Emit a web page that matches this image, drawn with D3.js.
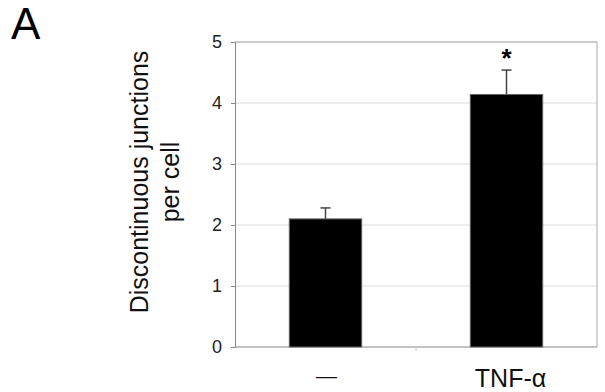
<!DOCTYPE html>
<html>
<head>
<meta charset="utf-8">
<script src="https://cdn.jsdelivr.net/npm/d3@7"></script>
<style>
  body { margin: 0; background: #fff; }
  text { font-family: "Liberation Sans", Arial, sans-serif; }
</style>
</head>
<body>
<svg id="chart" width="605" height="392"></svg>
<script>
const categories = ["\u2014", "TNF-\u03b1"]
const means = [2.1, 4.14]
const errors = [0.18, 0.4]
const stars = ["", "*"]
const yTicks = [0, 1, 2, 3, 4, 5]

const svg = d3.select("#chart")
const m = {left: 235, top: 42, right: 597, bottom: 347}

const x = d3.scaleBand()
    .domain(categories)
    .range([m.left, m.right])
    .paddingInner(0.6)
    .paddingOuter(0.3)

const y = d3.scaleLinear().domain([0, 5]).range([m.bottom, m.top])

// panel letter
svg.append("text")
    .attr("x", 11).attr("y", 39)
    .style("font-size", "44px")
    .text("A")

// grid
svg.append("g").selectAll("line")
    .data(yTicks.filter(d => d > 0))
    .join("line")
    .attr("x1", m.left).attr("x2", m.right)
    .attr("y1", d => y(d)).attr("y2", d => y(d))
    .style("stroke", "#dcdcdc")

// frame top / right
svg.append("path")
    .attr("d", `M${m.left},${m.top}H${m.right}V${m.bottom}`)
    .style("fill", "none").style("stroke", "#aaa")

// y axis
const yAxis = svg.append("g")
    .attr("transform", `translate(${m.left},0)`)
    .call(d3.axisLeft(y).tickValues(yTicks).tickFormat(d3.format("d")).tickSize(4).tickPadding(9))
yAxis.select(".domain").style("stroke", "#888")
yAxis.selectAll(".tick line").style("stroke", "#888")
yAxis.selectAll("text").style("font-size", "18px").style("fill", "#222")

// x axis line with boundary tick
svg.append("line")
    .attr("x1", m.left).attr("x2", m.right)
    .attr("y1", m.bottom).attr("y2", m.bottom)
    .style("stroke", "#888")
svg.append("line")
    .attr("x1", (x(categories[0]) + x.bandwidth() + x(categories[1])) / 2)
    .attr("x2", (x(categories[0]) + x.bandwidth() + x(categories[1])) / 2)
    .attr("y1", m.bottom).attr("y2", m.bottom + 4)
    .style("stroke", "#ccc")

// category labels
svg.append("g").selectAll("text")
    .data(categories)
    .join("text")
    .attr("x", d => x(d) + x.bandwidth() / 2 + (d === categories[0] ? 1 : 4))
    .attr("y", (d, i) => i === 0 ? 383 : 387)
    .attr("text-anchor", "middle")
    .style("font-size", (d, i) => i === 0 ? "21px" : "25px")
    .style("fill", "#111")
    .text(d => d)

// y title
const yt = svg.append("text")
    .attr("transform", `translate(148,182) rotate(-90)`)
    .attr("text-anchor", "middle")
    .style("font-size", "25px")
    .style("fill", "#111")
yt.append("tspan").attr("x", 0).attr("dy", 0).text("Discontinuous junctions")
yt.append("tspan").attr("x", 0).attr("dy", 31).text("per cell")

// error bars
const eb = svg.append("g").selectAll("g")
    .data(means)
    .join("g")
eb.append("line")
    .attr("x1", (d, i) => x(categories[i]) + x.bandwidth() / 2)
    .attr("x2", (d, i) => x(categories[i]) + x.bandwidth() / 2)
    .attr("y1", d => y(d))
    .attr("y2", (d, i) => y(d + errors[i]))
    .style("stroke", "#444").style("stroke-width", 1.5)
eb.append("line")
    .attr("x1", (d, i) => x(categories[i]) + x.bandwidth() / 2 - 5)
    .attr("x2", (d, i) => x(categories[i]) + x.bandwidth() / 2 + 5)
    .attr("y1", (d, i) => y(d + errors[i]))
    .attr("y2", (d, i) => y(d + errors[i]))
    .style("stroke", "#444").style("stroke-width", 1.5)

// bars
svg.append("g").selectAll("rect")
    .data(means)
    .join("rect")
    .attr("x", (d, i) => x(categories[i]))
    .attr("y", d => y(d))
    .attr("width", x.bandwidth())
    .attr("height", d => y(0) - y(d))
    .style("fill", "#000")
    .style("stroke", "#666")
    .style("stroke-width", 1)

// significance stars
svg.append("g").selectAll("text")
    .data(stars)
    .join("text")
    .attr("x", (d, i) => x(categories[i]) + x.bandwidth() / 2)
    .attr("y", (d, i) => y(means[i] + errors[i]) - 3)
    .attr("text-anchor", "middle")
    .style("font-size", "26px")
    .style("font-weight", "bold")
    .text(d => d)
</script>
</body>
</html>
